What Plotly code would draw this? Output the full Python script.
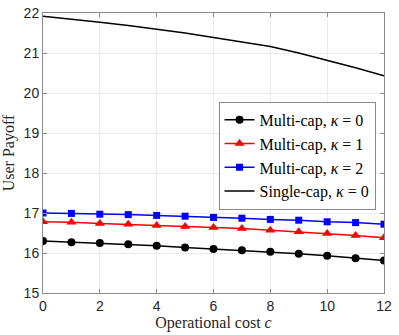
import plotly.graph_objects as go

cost = list(range(0, 13))
multi_k0 = [16.30, 16.27, 16.25, 16.22, 16.18, 16.14, 16.10, 16.07, 16.03, 15.98, 15.93, 15.87, 15.81]
multi_k1 = [16.78, 16.77, 16.74, 16.72, 16.69, 16.66, 16.64, 16.61, 16.57, 16.53, 16.49, 16.44, 16.38]
multi_k2 = [17.00, 16.99, 16.97, 16.96, 16.94, 16.92, 16.89, 16.87, 16.84, 16.82, 16.78, 16.76, 16.72]
single_k0 = [21.92, 21.85, 21.77, 21.69, 21.60, 21.50, 21.39, 21.28, 21.16, 21.00, 20.82, 20.63, 20.43]

x_ticks = [0, 2, 4, 6, 8, 10, 12]
y_ticks = [15, 16, 17, 18, 19, 20, 21, 22]

SERIF = "Liberation Serif, DejaVu Serif, serif"
SANS = "Liberation Sans, Arial, sans-serif"

series = [
    ("Multi-cap, <i>κ</i> = 0", multi_k0, "#000000", "circle", 8),
    ("Multi-cap, <i>κ</i> = 1", multi_k1, "#ff0000", "triangle-up", 9),
    ("Multi-cap, <i>κ</i> = 2", multi_k2, "#0000ff", "square", 7),
]

fig = go.Figure()
for name, values, color, symbol, size in series:
    fig.add_trace(
        go.Scatter(
            x=cost,
            y=values,
            mode="lines+markers",
            name=name,
            line={"color": color, "width": 1.5},
            marker={"color": color, "symbol": symbol, "size": size},
        )
    )
fig.add_trace(
    go.Scatter(
        x=cost,
        y=single_k0,
        mode="lines",
        name="Single-cap, <i>κ</i> = 0",
        line={"color": "#000000", "width": 1.5},
    )
)

axis_common = {
    "showline": True,
    "linecolor": "#8a8a8a",
    "linewidth": 1,
    "mirror": "ticks",
    "ticks": "inside",
    "ticklen": 4,
    "tickcolor": "#8a8a8a",
    "showgrid": True,
    "gridcolor": "#ebebeb",
    "gridwidth": 1,
    "zeroline": False,
    "automargin": False,
    "tickfont": {"family": SANS, "size": 14, "color": "#262626"},
}

fig.update_layout(
    width=399,
    height=335,
    paper_bgcolor="white",
    plot_bgcolor="white",
    margin={"l": 43, "r": 15, "t": 13, "b": 42},
    xaxis={
        **axis_common,
        "range": [0, 12],
        "tickvals": x_ticks,
        "title": {
            "text": "Operational cost <i>c</i>",
            "font": {"family": SERIF, "size": 16, "color": "#262626"},
            "standoff": 2,
        },
    },
    yaxis={
        **axis_common,
        "range": [15, 22],
        "tickvals": y_ticks,
        "title": {
            "text": "User Payoff",
            "font": {"family": SERIF, "size": 16, "color": "#262626"},
            "standoff": 6,
        },
    },
    legend={
        "x": 0.745,
        "y": 0.49,
        "xanchor": "center",
        "yanchor": "middle",
        "bgcolor": "white",
        "bordercolor": "#8a8a8a",
        "borderwidth": 1,
        "font": {"family": SERIF, "size": 16, "color": "#000000"},
        "itemwidth": 30,
        "tracegroupgap": 0,
    },
    showlegend=True,
)

# the page's default body margin would push the figure 8px off the window
fig.write_html(
    "out.html",
    config={"displayModeBar": False},
    post_script="document.body.style.margin = '0';",
)
